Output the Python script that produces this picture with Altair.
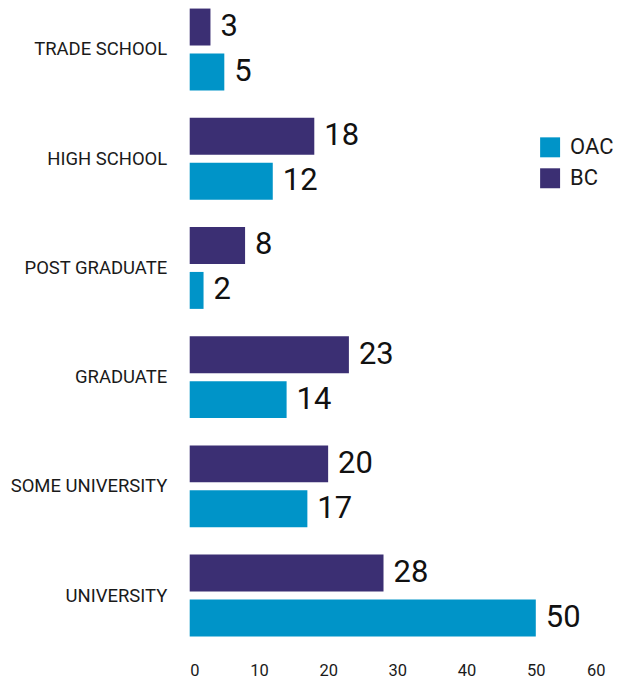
import altair as alt
import pandas as pd

categories = ["TRADE SCHOOL", "HIGH SCHOOL", "POST GRADUATE", "GRADUATE", "SOME UNIVERSITY", "UNIVERSITY"]
bc_values = [3, 18, 8, 23, 20, 28]
oac_values = [5, 12, 2, 14, 17, 50]
series = ["OAC", "BC"]
colors = ["#0094c8", "#3b2f73"]

rows = []
for c, b, o in zip(categories, bc_values, oac_values):
    rows.append({"cat": c, "series": "BC", "value": b})
    rows.append({"cat": c, "series": "OAC", "value": o})
df = pd.DataFrame(rows)

FONT = "Roboto"

y = alt.Y("cat:N", sort=categories, title=None,
          scale=alt.Scale(paddingInner=0.25, paddingOuter=0),
          axis=alt.Axis(domain=False, ticks=False, grid=False, labelFontSize=18.5,
                        labelColor="#1a1a1a", labelFont=FONT, labelPadding=23))
yoff = alt.YOffset("series:N", sort=["BC", "OAC"],
                   scale=alt.Scale(paddingInner=0.178, paddingOuter=0))
x = alt.X("value:Q", title=None,
          scale=alt.Scale(domain=[0, 60], nice=False),
          axis=alt.Axis(values=[0, 10, 20, 30, 40, 50, 60], domain=False, ticks=False, grid=False,
                        labelFontSize=16.5, labelColor="#1a1a1a", labelFont=FONT, labelPadding=26))

bars = alt.Chart(df).mark_bar().encode(
    x=x, y=y, yOffset=yoff,
    color=alt.Color("series:N", sort=series,
                    scale=alt.Scale(domain=series, range=colors),
                    legend=alt.Legend(title=None, orient="none", legendX=350, legendY=128,
                                      symbolType="square", symbolSize=400, symbolStrokeWidth=0,
                                      labelFontSize=22, labelFont=FONT, labelColor="#1a1a1a",
                                      rowPadding=9, labelOffset=9)),
)

labels = alt.Chart(df).mark_text(align="left", baseline="middle", dx=10, fontSize=31,
                                 font=FONT, color="#111111").encode(
    x="value:Q", y=alt.Y("cat:N", sort=categories), yOffset=alt.YOffset("series:N", sort=["BC", "OAC"]),
    text="value:Q",
)

chart = (bars + labels).properties(
    width=416, height=629,
    autosize=alt.AutoSizeParams(type="none"),
    padding={"left": 182, "top": 0, "right": 8, "bottom": 44},
).configure_view(stroke=None)

chart.save("out.html", embed_options={"renderer": "svg", "actions": False})
